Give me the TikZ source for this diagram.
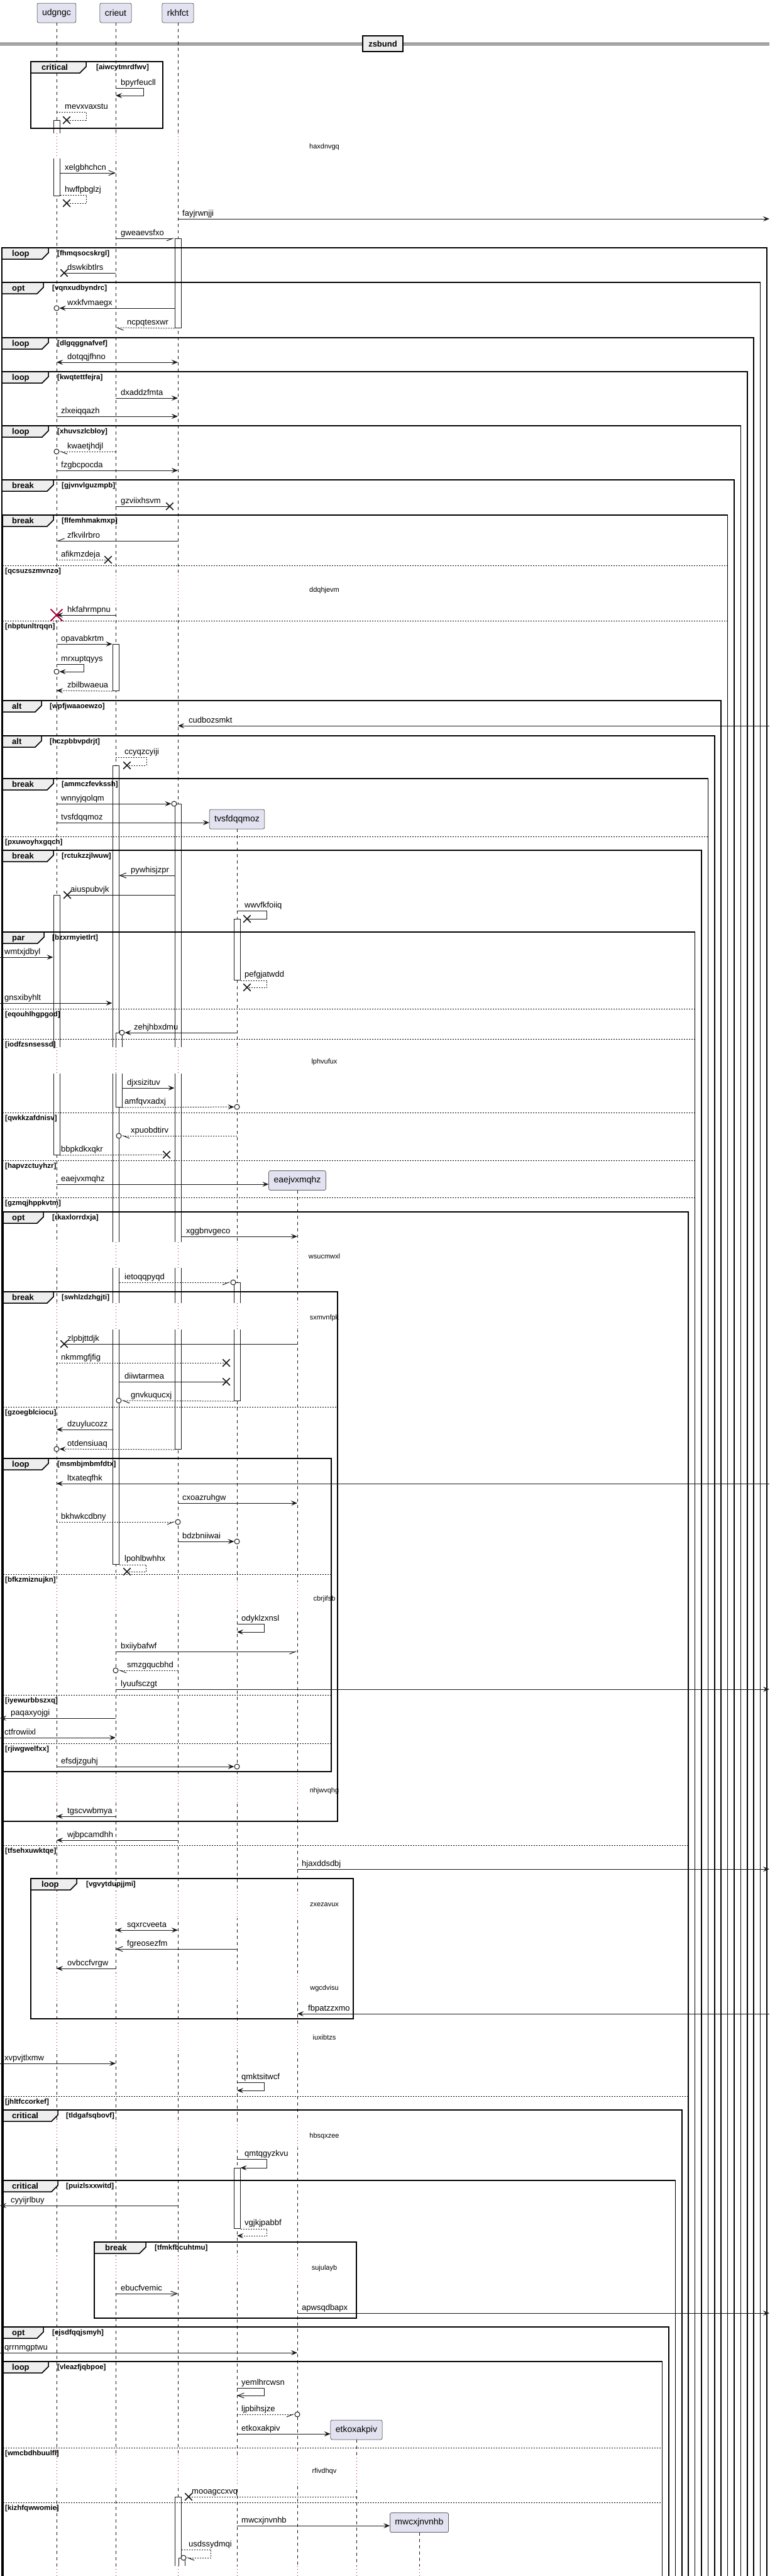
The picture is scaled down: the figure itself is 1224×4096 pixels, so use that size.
\documentclass[tikz,border=0pt]{standalone}
\usepackage{fontspec}
\setmainfont{Liberation Sans}
\usetikzlibrary{arrows.meta,shapes.misc}

\definecolor{partfill}{HTML}{E2E2F0}
\definecolor{tabfill}{HTML}{EEEEEE}
\definecolor{plred}{HTML}{A80036}
\definecolor{plline}{HTML}{181818}

\begin{document}
\begin{tikzpicture}[x=1pt,y=-1pt]

    % Define some common styles
    \tikzset{
        part/.style={draw=plline, fill=partfill, line width=0.5pt, rounded corners=2.5pt,
            minimum height=31pt, inner xsep=8pt, font=\fontsize{14}{16}\selectfont},
        lifeline/.style={plline, line width=0.5pt, dash pattern=on 5pt off 5pt},
        delayline/.style={plred, line width=1pt, dash pattern=on 1pt off 4pt},
        actbar/.style={draw=plline, fill=white, line width=1pt, minimum width=10pt,
            inner sep=0pt, anchor=north},
        frame/.style={draw=black, line width=1.5pt},
        tab/.style={draw=black, fill=tabfill, line width=1.5pt},
        kw/.style={anchor=base west, inner sep=0pt, font=\bfseries\fontsize{13}{15}\selectfont},
        cond/.style={anchor=base west, inner sep=0pt, font=\bfseries\fontsize{11.5}{13}\selectfont},
        elseline/.style={black, line width=1pt, dash pattern=on 2pt off 2pt},
        lbl/.style={anchor=base west, inner sep=0pt, font=\fontsize{13}{15}\selectfont},
        delaytxt/.style={anchor=base, inner sep=0pt, font=\fontsize{11}{13}\selectfont},
        msg/.style={draw=plline, line width=1pt},
        ret/.style={msg, dash pattern=on 2pt off 2pt},
        tipfill/.style={-{Stealth[length=10pt,width=8pt,inset=4pt]}},
        tipopen/.style={-{Straight Barb[length=10pt,width=8pt]}},
        tiphalfr/.style={-{Straight Barb[right,length=10pt,width=8pt]}},
        tiphalfl/.style={-{Straight Barb[left,length=10pt,width=8pt]}},
        tipboth/.style={{Stealth[length=10pt,width=8pt,inset=4pt]}-{Stealth[length=10pt,width=8pt,inset=4pt]}},
        xend/.style={cross out, draw=plline, line width=1.5pt, minimum size=10pt, inner sep=0pt},
        destroy/.style={cross out, draw=plred, line width=1.8pt, minimum size=17pt, inner sep=0pt},
        oend/.style={circle, draw=plline, fill=white, line width=1pt, minimum size=8pt, inner sep=0pt},
        divider/.style={draw=black, fill=tabfill, line width=1.5pt, minimum width=64pt,
            minimum height=25pt, inner sep=0pt, font=\bfseries\fontsize{13}{15}\selectfont}
    }

    \useasboundingbox (0,0) rectangle (1224,4096);
    \coordinate (ledge) at (0,0);
    \coordinate (redge) at (1224,0);

    % Participants
    \node[part] (udgngc) at (90,20.5) {udgngc};
    \node[part] (crieut) at (184,20.5) {crieut};
    \node[part] (rkhfct) at (283,20.5) {rkhfct};
    \node[part] (tvsfdqqmoz) at (377,1302.5) {tvsfdqqmoz};
    \node[part] (eaejvxmqhz) at (473,1877) {eaejvxmqhz};
    \node[part] (etkoxakpiv) at (567,3863.5) {etkoxakpiv};
    \node[part] (mwcxjnvnhb) at (667,4011) {mwcxjnvnhb};

    % Lifelines
    \draw[lifeline] (udgngc.south) -- (udgngc |- 0,4100);
    \draw[lifeline] (crieut.south) -- (crieut |- 0,4100);
    \draw[lifeline] (rkhfct.south) -- (rkhfct |- 0,4100);
    \draw[lifeline] (tvsfdqqmoz.south) -- (tvsfdqqmoz |- 0,4100);
    \draw[lifeline] (eaejvxmqhz.south) -- (eaejvxmqhz |- 0,4100);
    \draw[lifeline] (etkoxakpiv.south) -- (etkoxakpiv |- 0,4100);
    \draw[lifeline] (mwcxjnvnhb.south) -- (mwcxjnvnhb |- 0,4100);

    % Activation bars
    \node[actbar, minimum height=120pt] (barA1) at (udgngc |- 0,191) {};
    \node[actbar, minimum height=413pt] (barA2) at (udgngc |- 0,1423) {};
    \node[actbar, minimum height=74pt] (barB1) at (crieut |- 0,1024) {};
    \node[actbar, minimum height=1270pt] (barB2) at (crieut |- 0,1217) {};
    \node[actbar, minimum height=118pt] (barB3) at ([xshift=5pt]crieut |- 0,1642) {};
    \node[actbar, minimum height=142pt] (barC1) at (rkhfct |- 0,379) {};
    \node[actbar, minimum height=1026pt] (barC2) at (rkhfct |- 0,1278) {};
    \node[actbar, minimum height=130pt] (barC3) at (rkhfct |- 0,3970) {};
    \node[actbar, minimum height=33pt] (barC4) at ([xshift=6pt]rkhfct |- 0,4067) {};
    \node[actbar, minimum height=97pt] (barD1) at (tvsfdqqmoz |- 0,1461) {};
    \node[actbar, minimum height=188pt] (barD2) at (tvsfdqqmoz |- 0,2039) {};
    \node[actbar, minimum height=96pt] (barD3) at (tvsfdqqmoz |- 0,3447) {};

    % Delays
    \foreach \ya/\yb in {212/252, 910/960}
        \foreach \p in {udgngc,crieut,rkhfct} {
            \fill[white] ([xshift=-7pt]\p |- 0,\ya) rectangle ([xshift=12pt]\p |- 0,\yb);
            \draw[delayline] (\p |- 0,\ya) -- (\p |- 0,\yb);
        }
    \foreach \ya/\yb in {1665/1707}
        \foreach \p in {udgngc,crieut,rkhfct,tvsfdqqmoz} {
            \fill[white] ([xshift=-7pt]\p |- 0,\ya) rectangle ([xshift=12pt]\p |- 0,\yb);
            \draw[delayline] (\p |- 0,\ya) -- (\p |- 0,\yb);
        }
    \foreach \ya/\yb in {1975/2016, 2072/2114, 2515/2560, 2820/2867, 3007/3050, 3137/3180, 3217/3260, 3373/3415, 3587/3627}
        \foreach \p in {udgngc,crieut,rkhfct,tvsfdqqmoz,eaejvxmqhz} {
            \fill[white] ([xshift=-7pt]\p |- 0,\ya) rectangle ([xshift=12pt]\p |- 0,\yb);
            \draw[delayline] (\p |- 0,\ya) -- (\p |- 0,\yb);
        }
    \foreach \ya/\yb in {3903/3953}
        \foreach \p in {udgngc,crieut,rkhfct,tvsfdqqmoz,eaejvxmqhz,etkoxakpiv} {
            \fill[white] ([xshift=-7pt]\p |- 0,\ya) rectangle ([xshift=12pt]\p |- 0,\yb);
            \draw[delayline] (\p |- 0,\ya) -- (\p |- 0,\yb);
        }
    \foreach \ya/\yb in {4080/4100}
        \foreach \p in {udgngc,crieut,rkhfct,tvsfdqqmoz,eaejvxmqhz,etkoxakpiv,mwcxjnvnhb} {
            \fill[white] ([xshift=-7pt]\p |- 0,\ya) rectangle ([xshift=12pt]\p |- 0,\yb);
            \draw[delayline] (\p |- 0,\ya) -- (\p |- 0,\yb);
        }

    % Divider
    \draw[line width=1pt] (0,68.5) -- (1224,68.5);
    \draw[line width=1pt] (0,71.5) -- (1224,71.5);
    \node[divider] (zsbund) at (609,69.5) {zsbund};

    % Fragments
    \draw[frame] (49,98) rectangle (259,204);
    \draw[tab] (49,98) -- (137,98) -- (137,106) -- (127,116) -- (49,116) -- cycle;
    \node[kw] (k0) at (66,111) {critical};
    \node[cond] (c0) at (153,110) {[aiwcytmrdfwv]};

    \draw[frame] (3,4100) -- (3,394) -- (1220,394) -- (1220,4100);
    \draw[tab] (3,394) -- (77,394) -- (77,402) -- (67,412) -- (3,412) -- cycle;
    \node[kw] (k1) at (19,407) {loop};
    \node[cond] (c1) at (91,406) {[fhmqsocskrgl]};

    \draw[frame] (3,4100) -- (3,449) -- (1209.6,449) -- (1209.6,4100);
    \draw[tab] (3,449) -- (69,449) -- (69,457) -- (59,467) -- (3,467) -- cycle;
    \node[kw] (k2) at (19,462) {opt};
    \node[cond] (c2) at (83,461) {[vqnxudbyndrc]};

    \draw[frame] (3,4100) -- (3,537) -- (1199.2,537) -- (1199.2,4100);
    \draw[tab] (3,537) -- (77,537) -- (77,545) -- (67,555) -- (3,555) -- cycle;
    \node[kw] (k3) at (19,550) {loop};
    \node[cond] (c3) at (91,549) {[dlgqggnafvef]};

    \draw[frame] (3,4100) -- (3,591) -- (1188.8,591) -- (1188.8,4100);
    \draw[tab] (3,591) -- (77,591) -- (77,599) -- (67,609) -- (3,609) -- cycle;
    \node[kw] (k4) at (19,604) {loop};
    \node[cond] (c4) at (91,603) {[kwqtettfejra]};

    \draw[frame] (3,4100) -- (3,677) -- (1178.4,677) -- (1178.4,4100);
    \draw[tab] (3,677) -- (77,677) -- (77,685) -- (67,695) -- (3,695) -- cycle;
    \node[kw] (k5) at (19,690) {loop};
    \node[cond] (c5) at (91,689) {[xhuvszlcbloy]};

    \draw[frame] (3,4100) -- (3,763) -- (1168,763) -- (1168,4100);
    \draw[tab] (3,763) -- (85,763) -- (85,771) -- (75,781) -- (3,781) -- cycle;
    \node[kw] (k6) at (19,776) {break};
    \node[cond] (c6) at (98,775) {[gjvnvlguzmpb]};

    \draw[frame] (4,4100) -- (4,819) -- (1157.6,819) -- (1157.6,4100);
    \draw[tab] (4,819) -- (85,819) -- (85,827) -- (75,837) -- (4,837) -- cycle;
    \node[kw] (k7) at (19,832) {break};
    \node[cond] (c7) at (98,831) {[flfemhmakmxp]};
    \draw[elseline] (4,899) -- (1157.6,899);
    \node[cond] (e1) at (8,911) {[qcsuzszmvnzo]};
    \draw[elseline] (4,987) -- (1157.6,987);
    \node[cond] (e2) at (8,999) {[nbptunltrqqn]};

    \draw[frame] (4,4100) -- (4,1114) -- (1147.2,1114) -- (1147.2,4100);
    \draw[tab] (4,1114) -- (66,1114) -- (66,1122) -- (56,1132) -- (4,1132) -- cycle;
    \node[kw] (k8) at (19,1127) {alt};
    \node[cond] (c8) at (79,1126) {[wpfjwaaoewzo]};

    \draw[frame] (4,4100) -- (4,1170) -- (1136.8,1170) -- (1136.8,4100);
    \draw[tab] (4,1170) -- (66,1170) -- (66,1178) -- (56,1188) -- (4,1188) -- cycle;
    \node[kw] (k9) at (19,1183) {alt};
    \node[cond] (c9) at (79,1182) {[hczpbbvpdrjt]};

    \draw[frame] (4,4100) -- (4,1238) -- (1126.4,1238) -- (1126.4,4100);
    \draw[tab] (4,1238) -- (85,1238) -- (85,1246) -- (75,1256) -- (4,1256) -- cycle;
    \node[kw] (k10) at (19,1251) {break};
    \node[cond] (c10) at (98,1250) {[ammczfevkssh]};
    \draw[elseline] (4,1330) -- (1126.4,1330);
    \node[cond] (e3) at (8,1342) {[pxuwoyhxgqch]};

    \draw[frame] (4,4100) -- (4,1352) -- (1116,1352) -- (1116,4100);
    \draw[tab] (4,1352) -- (85,1352) -- (85,1360) -- (75,1370) -- (4,1370) -- cycle;
    \node[kw] (k11) at (19,1365) {break};
    \node[cond] (c11) at (98,1364) {[rctukzzjlwuw]};

    \draw[frame] (4,4100) -- (4,1482) -- (1105.6,1482) -- (1105.6,4100);
    \draw[tab] (4,1482) -- (70,1482) -- (70,1490) -- (60,1500) -- (4,1500) -- cycle;
    \node[kw] (k12) at (19,1495) {par};
    \node[cond] (c12) at (83,1494) {[bzxrmyietlrt]};
    \draw[elseline] (4,1604) -- (1105.6,1604);
    \node[cond] (e4) at (8,1616) {[eqouhlhgpgod]};
    \draw[elseline] (4,1652) -- (1105.6,1652);
    \node[cond] (e5) at (8,1664) {[iodfzsnsessd]};
    \draw[elseline] (4,1769) -- (1105.6,1769);
    \node[cond] (e6) at (8,1781) {[qwkkzafdnisv]};
    \draw[elseline] (4,1845) -- (1105.6,1845);
    \node[cond] (e7) at (8,1857) {[hapvzctuyhzr]};
    \draw[elseline] (4,1904) -- (1105.6,1904);
    \node[cond] (e8) at (8,1916) {[gzmqjhppkvtm]};

    \draw[frame] (5,4100) -- (5,1927) -- (1095.2,1927) -- (1095.2,4100);
    \draw[tab] (5,1927) -- (69,1927) -- (69,1935) -- (59,1945) -- (5,1945) -- cycle;
    \node[kw] (k13) at (19,1940) {opt};
    \node[cond] (c13) at (83,1939) {[rkaxlorrdxja]};
    \draw[elseline] (5,2934) -- (1095.2,2934);
    \node[cond] (e9) at (8,2946) {[tfsehxuwktqe]};
    \draw[elseline] (5,3333) -- (1095.2,3333);
    \node[cond] (e10) at (8,3345) {[jhltfccorkef]};

    \draw[frame] (5,2054) rectangle (537,2896);
    \draw[tab] (5,2054) -- (85,2054) -- (85,2062) -- (75,2072) -- (5,2072) -- cycle;
    \node[kw] (k14) at (19,2067) {break};
    \node[cond] (c14) at (98,2066) {[swhlzdzhgjti]};
    \draw[elseline] (5,2237) -- (537,2237);
    \node[cond] (e11) at (8,2249) {[gzoegblciocu]};

    \draw[frame] (5,2319) rectangle (527,2817);
    \draw[tab] (5,2319) -- (77,2319) -- (77,2327) -- (67,2337) -- (5,2337) -- cycle;
    \node[kw] (k15) at (19,2332) {loop};
    \node[cond] (c15) at (91,2331) {[msmbjmbmfdtx]};
    \draw[elseline] (5,2503) -- (527,2503);
    \node[cond] (e12) at (8,2515) {[bfkzmiznujkn]};
    \draw[elseline] (5,2695) -- (527,2695);
    \node[cond] (e13) at (8,2707) {[iyewurbbszxq]};
    \draw[elseline] (5,2772) -- (527,2772);
    \node[cond] (e14) at (8,2784) {[rjiwgwelfxx]};

    \draw[frame] (49,2987) rectangle (562,3210);
    \draw[tab] (49,2987) -- (122,2987) -- (122,2995) -- (112,3005) -- (49,3005) -- cycle;
    \node[kw] (k16) at (66,3000) {loop};
    \node[cond] (c16) at (137,2999) {[vgvytdupjjmi]};

    \draw[frame] (5,4100) -- (5,3355) -- (1084.8,3355) -- (1084.8,4100);
    \draw[tab] (5,3355) -- (92,3355) -- (92,3363) -- (82,3373) -- (5,3373) -- cycle;
    \node[kw] (k17) at (19,3368) {critical};
    \node[cond] (c17) at (105,3367) {[tldgafsqbovf]};

    \draw[frame] (5,4100) -- (5,3467) -- (1074.4,3467) -- (1074.4,4100);
    \draw[tab] (5,3467) -- (92,3467) -- (92,3475) -- (82,3485) -- (5,3485) -- cycle;
    \node[kw] (k18) at (19,3480) {critical};
    \node[cond] (c18) at (105,3479) {[puizlsxxwitd]};

    \draw[frame] (150,3565) rectangle (567,3686);
    \draw[tab] (150,3565) -- (232,3565) -- (232,3573) -- (222,3583) -- (150,3583) -- cycle;
    \node[kw] (k19) at (167,3578) {break};
    \node[cond] (c19) at (246,3577) {[tfmkfbcuhtmu]};

    \draw[frame] (5,4100) -- (5,3700) -- (1064,3700) -- (1064,4100);
    \draw[tab] (5,3700) -- (69,3700) -- (69,3708) -- (59,3718) -- (5,3718) -- cycle;
    \node[kw] (k20) at (19,3713) {opt};
    \node[cond] (c20) at (83,3712) {[ejsdfqqjsmyh]};

    \draw[frame] (5,4100) -- (5,3755) -- (1053.6,3755) -- (1053.6,4100);
    \draw[tab] (5,3755) -- (77,3755) -- (77,3763) -- (67,3773) -- (5,3773) -- cycle;
    \node[kw] (k21) at (19,3768) {loop};
    \node[cond] (c21) at (91,3767) {[vleazfjqbpoe]};
    \draw[elseline] (5,3892) -- (1053.6,3892);
    \node[cond] (e15) at (8,3904) {[wmcbdhbuulfl]};
    \draw[elseline] (5,3979) -- (1053.6,3979);
    \node[cond] (e16) at (8,3991) {[kizhfqwwomie]};

    % End markers
    \node[oend] (o1) at (udgngc |- 0,490) {};
    \node[oend] (o2) at (udgngc |- 0,718) {};
    \node[oend] (o3) at (udgngc |- 0,1068) {};
    \node[oend] (o4) at (277,1278) {};
    \node[oend] (o5) at (194,1642) {};
    \node[oend] (o6) at (tvsfdqqmoz |- 0,1760) {};
    \node[oend] (o7) at (189,1806) {};
    \node[oend] (o8) at (371,2039) {};
    \node[oend] (o9) at (189,2227) {};
    \node[oend] (o10) at (udgngc |- 0,2304) {};
    \node[oend] (o11) at (rkhfct |- 0,2420) {};
    \node[oend] (o12) at (tvsfdqqmoz |- 0,2451) {};
    \node[oend] (o13) at (crieut |- 0,2656) {};
    \node[oend] (o14) at (tvsfdqqmoz |- 0,2809) {};
    \node[oend] (o15) at (eaejvxmqhz |- 0,3839) {};
    \node[oend] (o16) at (292,4067) {};
    \node[xend] (x1) at (106,191) {};
    \node[xend] (x2) at (106,323) {};
    \node[xend] (x3) at (102,434) {};
    \node[xend] (x4) at (270,805) {};
    \node[xend] (x5) at (172,890) {};
    \node[xend] (x6) at (202,1217) {};
    \node[xend] (x7) at (107,1423) {};
    \node[xend] (x8) at (393,1461) {};
    \node[xend] (x9) at (393,1570) {};
    \node[xend] (x10) at (265,1836) {};
    \node[xend] (x11) at (102,2137) {};
    \node[xend] (x12) at (360,2167) {};
    \node[xend] (x13) at (360,2197) {};
    \node[xend] (x14) at (202,2499) {};
    \node[xend] (x15) at (300,3970) {};

    % Messages
    \draw[msg, tipfill] (crieut |- 0,140) -- ++(44,0) |- (crieut |- 0,152);
    \node[lbl] (m1) at (192,135) {bpyrfeucll};
    \draw[ret] (udgngc |- 0,178) -- ++(47,0) |- (x1.center);
    \node[lbl] (m2) at (103,173) {mevxvaxstu};
    \draw[msg, tipopen] (barA1.east |- 0,275) -- (crieut |- 0,275);
    \node[lbl] (m3) at (103,270) {xelgbhchcn};
    \draw[ret] (barA1.east |- 0,310) -- ++(42,0) |- (x2.center);
    \node[lbl] (m4) at (103,305) {hwffpbglzj};
    \draw[msg, tipfill] (rkhfct |- 0,348) -- (redge |- 0,348);
    \node[lbl] (m5) at (290,343) {fayjrwnjji};
    \draw[msg, tiphalfr] (crieut |- 0,379) -- (barC1.north west);
    \node[lbl] (m6) at (192,374) {gweaevsfxo};
    \draw[msg] (crieut |- 0,434) -- (x3.center);
    \node[lbl] (m7) at (107,429) {dswkibtlrs};
    \draw[msg, tipfill] (barC1.west |- 0,490) -- (o1);
    \node[lbl] (m8) at (107,485) {wxkfvmaegx};
    \draw[ret, tiphalfl] (barC1.south west) -- (crieut |- 0,521);
    \node[lbl] (m9) at (202,516) {ncpqtesxwr};
    \draw[msg, tipboth] (udgngc |- 0,576) -- (rkhfct |- 0,576);
    \node[lbl] (m10) at (107,571) {dotqqjfhno};
    \draw[msg, tipfill] (crieut |- 0,633) -- (rkhfct |- 0,633);
    \node[lbl] (m11) at (192,628) {dxaddzfmta};
    \draw[msg, tipfill] (udgngc |- 0,662) -- (rkhfct |- 0,662);
    \node[lbl] (m12) at (97,657) {zlxeiqqazh};
    \draw[ret, tiphalfl] (crieut |- 0,718) -- (o2);
    \node[lbl] (m13) at (107,713) {kwaetjhdjl};
    \draw[msg, tipfill] (udgngc |- 0,748) -- (rkhfct |- 0,748);
    \node[lbl] (m14) at (97,743) {fzgbcpocda};
    \draw[msg] (crieut |- 0,805) -- (x4.center);
    \node[lbl] (m15) at (192,800) {gzviixhsvm};
    \draw[msg, tiphalfr] (rkhfct |- 0,860) -- (udgngc |- 0,860);
    \node[lbl] (m16) at (107,855) {zfkvilrbro};
    \draw[ret] (udgngc |- 0,890) -- (x5.center);
    \node[lbl] (m17) at (97,885) {afikmzdeja};
    \draw[msg, tipfill] (crieut |- 0,978) -- (udgngc |- 0,978);
    \node[destroy] (xd) at (udgngc |- 0,978) {};
    \node[lbl] (m18) at (107,973) {hkfahrmpnu};
    \draw[msg, tipfill] (udgngc |- 0,1024) -- (barB1.north west);
    \node[lbl] (m19) at (97,1019) {opavabkrtm};
    \draw[msg, tipfill] (udgngc |- 0,1056) -- ++(43,0) |- (o3);
    \node[lbl] (m20) at (97,1051) {mrxuptqyys};
    \draw[ret, tipfill] (barB1.south west) -- (udgngc |- 0,1098);
    \node[lbl] (m21) at (107,1093) {zbilbwaeua};
    \draw[msg, tipfill] (redge |- 0,1154) -- (rkhfct |- 0,1154);
    \node[lbl] (m22) at (300,1149) {cudbozsmkt};
    \draw[ret] (crieut |- 0,1204) -- ++(49,0) |- (x6.center);
    \node[lbl] (m23) at (198,1199) {ccyqzcyiji};
    \draw[msg, tipfill] (udgngc |- 0,1278) -- (o4);
    \node[lbl] (m24) at (97,1273) {wnnyjqolqm};
    \draw[msg, tipfill] (udgngc |- 0,1308) -- (tvsfdqqmoz.west |- 0,1308);
    \node[lbl] (m25) at (97,1303) {tvsfdqqmoz};
    \draw[msg, tipopen] (barC2.west |- 0,1392) -- (barB2.east |- 0,1392);
    \node[lbl] (m26) at (208,1387) {pywhisjzpr};
    \draw[msg] (barC2.west |- 0,1423) -- (x7.center);
    \node[lbl] (m27) at (112,1418) {aiuspubvjk};
    \draw[msg] (tvsfdqqmoz |- 0,1448) -- ++(47,0) |- (x8.center);
    \node[lbl] (m28) at (389,1443) {wwvfkfoiiq};
    \draw[msg, tipfill] (ledge |- 0,1522) -- (barA2.west |- 0,1522);
    \node[lbl] (m29) at (7,1517) {wmtxjdbyl};
    \draw[ret] (barD1.south east) -- ++(42,0) |- (x9.center);
    \node[lbl] (m30) at (389,1553) {pefgjatwdd};
    \draw[msg, tipfill] (ledge |- 0,1595) -- (barB2.west |- 0,1595);
    \node[lbl] (m31) at (7,1590) {gnsxibyhlt};
    \draw[msg, tipfill] (tvsfdqqmoz |- 0,1642) -- (o5);
    \node[lbl] (m32) at (213,1637) {zehjhbxdmu};
    \draw[msg, tipfill] (barB3.east |- 0,1730) -- (barC2.west |- 0,1730);
    \node[lbl] (m33) at (202,1725) {djxsizituv};
    \draw[ret, tipfill] (barB3.south east) -- (o6);
    \node[lbl] (m34) at (198,1755) {amfqvxadxj};
    \draw[ret, tiphalfl] (tvsfdqqmoz |- 0,1806) -- (o7);
    \node[lbl] (m35) at (208,1801) {xpuobdtirv};
    \draw[ret] (barA2.south east) -- (x10.center);
    \node[lbl] (m36) at (97,1831) {bbpkdkxqkr};
    \draw[msg, tipfill] (udgngc |- 0,1883) -- (eaejvxmqhz.west |- 0,1883);
    \node[lbl] (m37) at (97,1878) {eaejvxmqhz};
    \draw[msg, tipfill] (barC2.east |- 0,1966) -- (eaejvxmqhz |- 0,1966);
    \node[lbl] (m38) at (296,1961) {xggbnvgeco};
    \draw[ret, tiphalfr] (barB2.east |- 0,2039) -- (o8);
    \node[lbl] (m39) at (198,2034) {ietoqqpyqd};
    \draw[msg] (eaejvxmqhz |- 0,2137) -- (x11.center);
    \node[lbl] (m40) at (107,2132) {zlpbjttdjk};
    \draw[ret] (udgngc |- 0,2167) -- (x12.center);
    \node[lbl] (m41) at (97,2162) {nkmmgfjfig};
    \draw[msg] (barB2.east |- 0,2197) -- (x13.center);
    \node[lbl] (m42) at (198,2192) {diiwtarmea};
    \draw[ret, tiphalfl] (barD2.south west) -- (o9);
    \node[lbl] (m43) at (208,2222) {gnvkuqucxj};
    \draw[msg, tipfill] (barB2.west |- 0,2273) -- (udgngc |- 0,2273);
    \node[lbl] (m44) at (107,2268) {dzuylucozz};
    \draw[ret, tipfill] (barC2.south west) -- (o10);
    \node[lbl] (m45) at (107,2299) {otdensiuaq};
    \draw[msg, tipfill] (redge |- 0,2359) -- (udgngc |- 0,2359);
    \node[lbl] (m46) at (107,2354) {ltxateqfhk};
    \draw[msg, tipfill] (rkhfct |- 0,2390) -- (eaejvxmqhz |- 0,2390);
    \node[lbl] (m47) at (290,2385) {cxoazruhgw};
    \draw[ret, tiphalfr] (udgngc |- 0,2420) -- (o11);
    \node[lbl] (m48) at (97,2415) {bkhwkcdbny};
    \draw[msg, tipfill] (rkhfct |- 0,2451) -- (o12);
    \node[lbl] (m49) at (290,2446) {bdzbniiwai};
    \draw[ret] (barB2.south east) -- ++(43,0) |- (x14.center);
    \node[lbl] (m50) at (198,2482) {lpohlbwhhx};
    \draw[msg, tipfill] (tvsfdqqmoz |- 0,2582) -- ++(43,0) |- (tvsfdqqmoz |- 0,2595);
    \node[lbl] (m51) at (384,2577) {odyklzxnsl};
    \draw[msg, tiphalfr] (crieut |- 0,2626) -- (eaejvxmqhz |- 0,2626);
    \node[lbl] (m52) at (192,2621) {bxiiybafwf};
    \draw[ret, tiphalfl] (rkhfct |- 0,2656) -- (o13);
    \node[lbl] (m53) at (202,2651) {smzgqucbhd};
    \draw[msg, tipfill] (crieut |- 0,2686) -- (redge |- 0,2686);
    \node[lbl] (m54) at (192,2681) {lyuufsczgt};
    \draw[msg, tipfill] (crieut |- 0,2732) -- (ledge |- 0,2732);
    \node[lbl] (m55) at (17,2727) {paqaxyojgi};
    \draw[msg, tipfill] (ledge |- 0,2763) -- (crieut |- 0,2763);
    \node[lbl] (m56) at (7,2758) {ctfrowiixl};
    \draw[msg, tipfill] (udgngc |- 0,2809) -- (o14);
    \node[lbl] (m57) at (97,2804) {efsdjzguhj};
    \draw[msg, tipfill] (crieut |- 0,2888) -- (udgngc |- 0,2888);
    \node[lbl] (m58) at (107,2883) {tgscvwbmya};
    \draw[msg, tipfill] (rkhfct |- 0,2926) -- (udgngc |- 0,2926);
    \node[lbl] (m59) at (107,2921) {wjbpcamdhh};
    \draw[msg, tipfill] (eaejvxmqhz |- 0,2972) -- (redge |- 0,2972);
    \node[lbl] (m60) at (480,2967) {hjaxddsdbj};
    \draw[msg, tipboth] (crieut |- 0,3069) -- (rkhfct |- 0,3069);
    \node[lbl] (m61) at (202,3064) {sqxrcveeta};
    \draw[msg, tipopen] (tvsfdqqmoz |- 0,3099) -- (crieut |- 0,3099);
    \node[lbl] (m62) at (202,3094) {fgreosezfm};
    \draw[msg, tipfill] (crieut |- 0,3130) -- (udgngc |- 0,3130);
    \node[lbl] (m63) at (107,3125) {ovbccfvrgw};
    \draw[msg, tipfill] (redge |- 0,3202) -- (eaejvxmqhz |- 0,3202);
    \node[lbl] (m64) at (490,3197) {fbpatzzxmo};
    \draw[msg, tipfill] (ledge |- 0,3281) -- (crieut |- 0,3281);
    \node[lbl] (m65) at (7,3276) {xvpvjtlxmw};
    \draw[msg, tipfill] (tvsfdqqmoz |- 0,3311) -- ++(43,0) |- (tvsfdqqmoz |- 0,3324);
    \node[lbl] (m66) at (384,3306) {qmktsitwcf};
    \draw[msg, tipfill] (tvsfdqqmoz |- 0,3433) -- ++(47,0) |- (barD3.north east);
    \node[lbl] (m67) at (389,3428) {qmtqgyzkvu};
    \draw[msg, tipfill] (rkhfct |- 0,3507) -- (ledge |- 0,3507);
    \node[lbl] (m68) at (17,3502) {cyyijrlbuy};
    \draw[ret, tipfill] (barD3.south east) -- ++(42,0) |- (tvsfdqqmoz |- 0,3555);
    \node[lbl] (m69) at (389,3538) {vgjkjpabbf};
    \draw[msg, tipopen] (crieut |- 0,3647) -- (rkhfct |- 0,3647);
    \node[lbl] (m70) at (192,3642) {ebucfvemic};
    \draw[msg, tipfill] (eaejvxmqhz |- 0,3678) -- (redge |- 0,3678);
    \node[lbl] (m71) at (480,3673) {apwsqdbapx};
    \draw[msg, tipfill] (ledge |- 0,3741) -- (eaejvxmqhz |- 0,3741);
    \node[lbl] (m72) at (7,3736) {qrrnmgptwu};
    \draw[msg, tipopen] (tvsfdqqmoz |- 0,3797) -- ++(43,0) |- (tvsfdqqmoz |- 0,3809);
    \node[lbl] (m73) at (384,3792) {yemlhrcwsn};
    \draw[ret, tiphalfr] (tvsfdqqmoz |- 0,3839) -- (o15);
    \node[lbl] (m74) at (384,3834) {ljpbihsjze};
    \draw[msg, tipfill] (tvsfdqqmoz |- 0,3870) -- (etkoxakpiv.west |- 0,3870);
    \node[lbl] (m75) at (384,3865) {etkoxakpiv};
    \draw[ret] (etkoxakpiv |- 0,3970) -- (x15.center);
    \node[lbl] (m76) at (305,3965) {mooagccxvq};
    \draw[msg, tipfill] (tvsfdqqmoz |- 0,4016) -- (mwcxjnvnhb.west |- 0,4016);
    \node[lbl] (m77) at (384,4011) {mwcxjnvnhb};
    \draw[ret, tiphalfl] (barC3.east |- 0,4054) -- ++(47,0) |- (o16);
    \node[lbl] (m78) at (300,4049) {usdssydmqi};

    % Delay notes
    \node[delaytxt] (d1) at (516,236) {haxdnvgq};
    \node[delaytxt] (d2) at (516,941) {ddqhjevm};
    \node[delaytxt] (d3) at (516,1691) {lphvufux};
    \node[delaytxt] (d4) at (516,2001) {wsucmwxl};
    \node[delaytxt] (d5) at (516,2098) {sxmvnfpk};
    \node[delaytxt] (d6) at (516,2545) {cbrjifsb};
    \node[delaytxt] (d7) at (516,2850) {nhjwvqhg};
    \node[delaytxt] (d8) at (516,3031) {zxezavux};
    \node[delaytxt] (d9) at (516,3164) {wgcdvisu};
    \node[delaytxt] (d10) at (516,3243) {iuxibtzs};
    \node[delaytxt] (d11) at (516,3399) {hbsqxzee};
    \node[delaytxt] (d12) at (516,3609) {sujulayb};
    \node[delaytxt] (d13) at (516,3932) {rfivdhqv};

\end{tikzpicture}
\end{document}
